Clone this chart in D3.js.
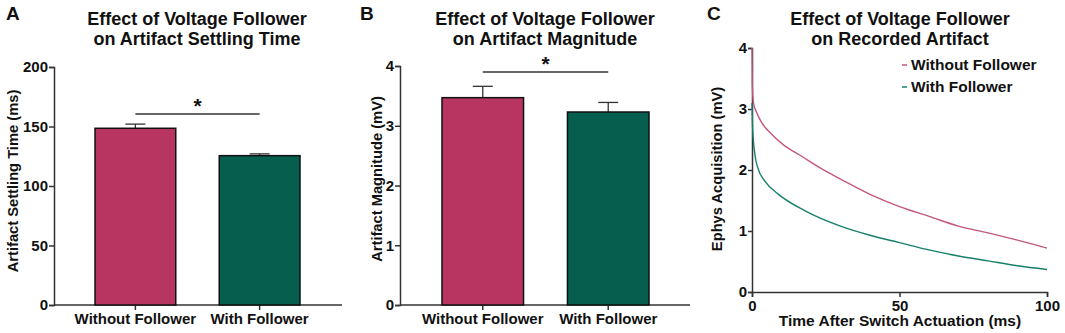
<!DOCTYPE html>
<html>
<head>
<meta charset="utf-8">
<script src="https://cdn.jsdelivr.net/npm/d3@7"></script>
<style>
  body { margin: 0; background: #fff; }
  svg { display: block; font-family: "Liberation Sans", Arial, sans-serif; font-weight: bold; }
</style>
</head>
<body>
<div id="plot"></div>
<script>
// data
const categories = ["Without Follower", "With Follower"];
const settlingMean = [148.5, 125.5];
const settlingErr = [3.5, 1.5];
const magnitudeMean = [3.47, 3.23];
const magnitudeErr = [0.19, 0.16];

const withoutTime = [0, 0.1, 0.5, 1.5, 3, 7, 11, 16, 25, 30, 40, 50, 60, 70, 80, 90, 100];
const withoutTrace = [4.0, 3.4, 3.1, 2.95, 2.8, 2.57, 2.4, 2.25, 1.98, 1.85, 1.6, 1.4, 1.24, 1.08, 0.97, 0.85, 0.72];
const withTime = [0, 0.2, 1, 2, 4.5, 9, 18, 30, 40, 50, 60, 70, 80, 90, 100];
const withTrace = [3.1, 2.7, 2.25, 2.03, 1.81, 1.6, 1.33, 1.08, 0.93, 0.81, 0.69, 0.59, 0.51, 0.43, 0.37];

const yTicksA = [0, 50, 100, 150, 200];
const yTicksB = [0, 1, 2, 3, 4];
const yTicksC = [0, 1, 2, 3, 4];
const xTicksC = [0, 50, 100];

const barColors = ["#b83562", "#055e4e"];
const lineColors = ["#c4577f", "#17806b"];

window.addEventListener("load", main);

function main(){
  const width = 1065, height = 333;
  const svg = d3.select("#plot").append("svg")
    .attr("width", width)
    .attr("height", height);

  const fmt = d3.format("d");

  // shared axis styling
  function styleAxis(g){
    g.select(".domain").attr("stroke", "#333").attr("stroke-width", 1.5);
    g.selectAll(".tick line").attr("stroke", "#333").attr("stroke-width", 1.5);
    g.selectAll(".tick text").attr("fill", "#111").style("font-size", "15px").style("font-weight", "bold");
  }

  function titles(cx, lines, letter, lx){
    svg.append("text").attr("x", lx).attr("y", 20)
      .style("font-size", "19px").attr("fill", "#111").text(letter);
    lines.forEach((t, i) => {
      svg.append("text").attr("x", cx).attr("y", 25 + i * 20)
        .attr("text-anchor", "middle").style("font-size", "18px")
        .attr("fill", "#111").text(t);
    });
  }

  function yLabel(x, y, txt){
    svg.append("text")
      .attr("transform", `translate(${x},${y}) rotate(-90)`)
      .attr("text-anchor", "middle").style("font-size", "14.7px")
      .attr("fill", "#111").text(txt);
  }

  // bar panel
  function barPanel(opt){
    const y = d3.scaleLinear().domain(opt.domain).range([305, opt.top]);
    const x = d3.scaleBand().domain(categories).range(opt.barRange).paddingInner(0.35);
    const g = svg.append("g");

    g.append("g").attr("transform", `translate(${opt.axisX},0)`)
      .call(d3.axisLeft(y).tickValues(opt.ticks).tickFormat(fmt).tickSize(5).tickPadding(1))
      .call(styleAxis);

    // x axis line with ticks at bar centres
    const xa = g.append("g").attr("transform", "translate(0,305)");
    xa.append("line").attr("x1", opt.axisX).attr("x2", opt.axisEnd)
      .attr("stroke", "#333").attr("stroke-width", 1.5);
    xa.selectAll(".xt").data(categories).join("line")
      .attr("x1", d => x(d) + x.bandwidth() / 2)
      .attr("x2", d => x(d) + x.bandwidth() / 2)
      .attr("y1", 0).attr("y2", 5)
      .attr("stroke", "#333").attr("stroke-width", 1.5);
    xa.selectAll("text").data(categories).join("text")
      .attr("x", d => x(d) + x.bandwidth() / 2)
      .attr("y", 19).attr("text-anchor", "middle")
      .style("font-size", "15px").attr("fill", "#111").text(d => d);

    // error bars (upper only)
    const eb = g.append("g");
    opt.mean.forEach((m, i) => {
      const cx = x(categories[i]) + x.bandwidth() / 2;
      eb.append("line").attr("x1", cx).attr("x2", cx)
        .attr("y1", y(m)).attr("y2", y(m + opt.err[i]))
        .attr("stroke", "#333").attr("stroke-width", 1.3);
      eb.append("line").attr("x1", cx - 10).attr("x2", cx + 10)
        .attr("y1", y(m + opt.err[i])).attr("y2", y(m + opt.err[i]))
        .attr("stroke", "#333").attr("stroke-width", 1.3);
    });

    g.selectAll("rect").data(opt.mean).join("rect")
      .attr("x", (d, i) => x(categories[i]))
      .attr("width", x.bandwidth())
      .attr("y", d => y(d))
      .attr("height", d => 305 - y(d))
      .attr("fill", (d, i) => barColors[i])
      .attr("stroke", "#111").attr("stroke-width", 1.5);

    // significance bar
    const c1 = x(categories[0]) + x.bandwidth() / 2;
    const c2 = x(categories[1]) + x.bandwidth() / 2;
    g.append("line").attr("x1", c1).attr("x2", c2)
      .attr("y1", opt.sigY).attr("y2", opt.sigY)
      .attr("stroke", "#333").attr("stroke-width", 1.3);
    g.append("text").attr("x", (c1 + c2) / 2).attr("y", opt.sigY - 1)
      .attr("text-anchor", "middle").style("font-size", "21px")
      .attr("fill", "#111").text("*");
  }

  // panel A
  titles(197, ["Effect of Voltage Follower", "on Artifact Settling Time"], "A", 6);
  barPanel({domain: [0, 200], top: 67, ticks: yTicksA, axisX: 54, axisEnd: 342,
    barRange: [95, 300], mean: settlingMean, err: settlingErr, sigY: 114});
  yLabel(18, 181, "Artifact Settling Time (ms)");

  // panel B
  titles(545, ["Effect of Voltage Follower", "on Artifact Magnitude"], "B", 360);
  barPanel({domain: [0, 4], top: 66, ticks: yTicksB, axisX: 400, axisEnd: 690,
    barRange: [442, 649], mean: magnitudeMean, err: magnitudeErr, sigY: 72});
  yLabel(382, 179, "Artifact Magnitude (mV)");

  // panel C
  titles(900, ["Effect of Voltage Follower", "on Recorded Artifact"], "C", 707);
  const xC = d3.scaleLinear().domain([0, 100]).range([752, 1047]);
  const yC = d3.scaleLinear().domain([0, 4]).range([292, 48]);
  const lineGen = d3.line().x(d => xC(d[0])).y(d => yC(d[1])).curve(d3.curveMonotoneX);

  svg.append("g").attr("transform", "translate(752,0)")
    .call(d3.axisLeft(yC).tickValues(yTicksC).tickFormat(fmt).tickSize(4).tickPadding(1))
    .call(styleAxis);
  svg.append("g").attr("transform", "translate(0,292)")
    .call(d3.axisBottom(xC).tickValues(xTicksC).tickFormat(fmt).tickSize(5).tickPadding(3))
    .call(styleAxis);

  const series = [
    withoutTime.map((t, i) => [t, withoutTrace[i]]),
    withTime.map((t, i) => [t, withTrace[i]])
  ];
  // traces drawn over the axis like the original
  svg.append("g").selectAll("path").data(series).join("path")
    .attr("d", lineGen)
    .attr("fill", "none")
    .attr("stroke", (d, i) => lineColors[i])
    .attr("stroke-width", 1.4);

  yLabel(722, 169, "Ephys Acquisition (mV)");
  svg.append("text").attr("x", 900).attr("y", 326).attr("text-anchor", "middle")
    .style("font-size", "15.5px").attr("fill", "#111").text("Time After Switch Actuation (ms)");

  // legend
  const leg = svg.append("g").selectAll("g").data(categories).join("g")
    .attr("transform", (d, i) => `translate(902,${65 + i * 22})`);
  leg.append("line").attr("x1", 0).attr("x2", 5)
    .attr("stroke", (d, i) => lineColors[i]).attr("stroke-width", 1.5);
  leg.append("text").attr("x", 9).attr("dy", "0.35em")
    .style("font-size", "15.5px").attr("fill", "#111").text(d => d);
}
</script>
</body>
</html>
